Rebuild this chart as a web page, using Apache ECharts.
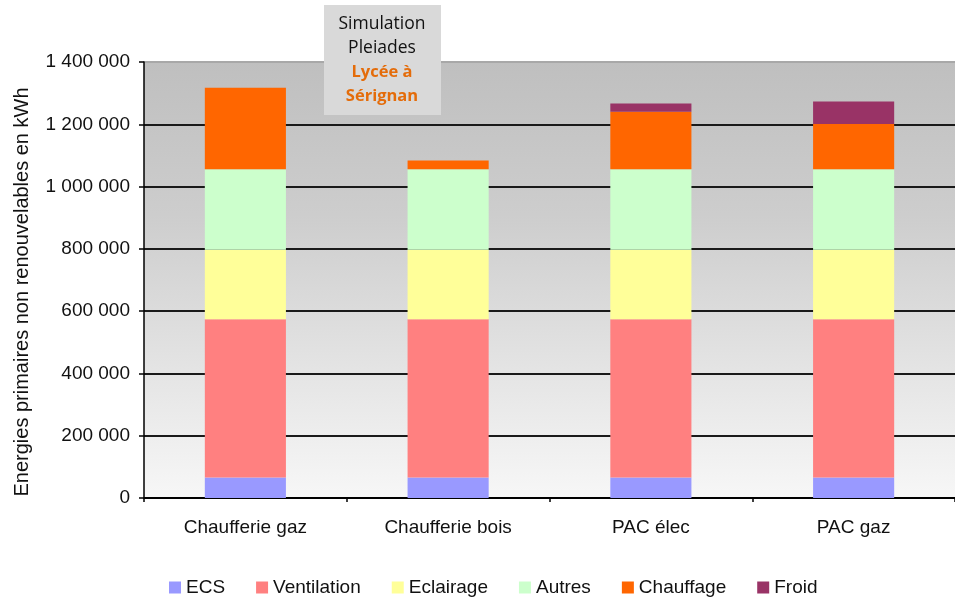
<!DOCTYPE html>
<html>
<head>
<meta charset="utf-8">
<script src="https://cdn.jsdelivr.net/npm/echarts@6/dist/echarts.min.js"></script>
<style>
  html, body { margin: 0; padding: 0; background: #fff; }
  #chart { width: 955px; height: 598px; }
</style>
</head>
<body>
<div id="chart"></div>
<script>
// Consommation d'énergie primaire non renouvelable par variante (kWh)
const categories = ['Chaufferie gaz', 'Chaufferie bois', 'PAC élec', 'PAC gaz'];
const ecs         = [66000, 66000, 66000, 66000];
const ventilation = [508000, 508000, 508000, 508000];
const eclairage   = [223000, 223000, 223000, 223000];
const autres      = [259000, 259000, 259000, 259000];
const chauffage   = [261000, 28000, 184000, 145000];
const froid       = [0, 0, 27000, 72000];

const seriesNames  = ['ECS', 'Ventilation', 'Eclairage', 'Autres', 'Chauffage', 'Froid'];
const seriesValues = [ecs, ventilation, eclairage, autres, chauffage, froid];
const seriesColors = ['#9999ff', '#ff8080', '#ffff99', '#ccffcc', '#ff6600', '#993366'];

const yTicks = { min: 0, max: 1400000, interval: 200000 };

function formatThousands(v) {
  return String(v).replace(/\B(?=(\d{3})+(?!\d))/g, ' ');
}

const chart = echarts.init(document.getElementById('chart'));

const baseFont = '"Liberation Sans", Arial, sans-serif';
const boxFont = '"Open Sans", sans-serif';

chart.setOption({
  animation: false,
  textStyle: { fontFamily: baseFont },
  grid: {
    left: 144, top: 62, width: 822, height: 436,
    show: true,
    borderWidth: 0,
    backgroundColor: new echarts.graphic.LinearGradient(0, 0, 0, 1, [
      { offset: 0, color: '#bfbfbf' },
      { offset: 0.35, color: '#cdcdcd' },
      { offset: 1, color: '#f7f7f7' }
    ])
  },
  legend: {
    left: 164, top: 573,
    itemWidth: 12, itemHeight: 12, itemGap: 31,
    icon: 'rect',
    textStyle: { fontSize: 19, color: '#111', fontFamily: baseFont },
    data: seriesNames
  },
  xAxis: {
    type: 'category',
    data: categories,
    axisLine: { lineStyle: { color: '#000', width: 1.5 } },
    axisTick: { show: true, length: 4, lineStyle: { color: '#000', width: 1.5 } },
    axisLabel: { margin: 20, fontSize: 19, color: '#111', fontFamily: baseFont }
  },
  yAxis: {
    type: 'value',
    min: yTicks.min, max: yTicks.max, interval: yTicks.interval,
    name: 'Energies primaires non renouvelables en kWh',
    nameLocation: 'middle',
    nameGap: 112,
    nameTextStyle: { fontSize: 20, color: '#111', fontFamily: baseFont, padding: [0, 24, 0, 0] },
    axisLine: { show: true, lineStyle: { color: '#000', width: 1.5 } },
    axisTick: { show: true, length: 5, lineStyle: { color: '#000', width: 1.5 } },
    axisLabel: {
      margin: 14, fontSize: 19, color: '#111', fontFamily: baseFont,
      formatter: formatThousands
    },
    splitLine: {
      show: true,
      lineStyle: {
        color: ['#000', '#1a1a1a', '#1a1a1a', '#1a1a1a', '#1a1a1a', '#1a1a1a', '#1a1a1a', '#a8a8a8'],
        width: 2
      }
    }
  },
  series: seriesNames.map((name, i) => ({
    name: name,
    type: 'bar',
    stack: 'total',
    barWidth: '40%',
    data: seriesValues[i],
    itemStyle: { color: seriesColors[i] },
    emphasis: { disabled: true }
  })),
  graphic: [
    {
      type: 'rect',
      z: 100,
      shape: { x: 324, y: 5, width: 117, height: 110 },
      style: { fill: '#d9d9d9' }
    },
    {
      type: 'text', z: 101, x: 382, y: 24,
      style: { text: 'Simulation', fill: '#111', font: '17.5px ' + boxFont, textAlign: 'center', textVerticalAlign: 'middle' }
    },
    {
      type: 'text', z: 101, x: 382, y: 48,
      style: { text: 'Pleiades', fill: '#111', font: '17.5px ' + boxFont, textAlign: 'center', textVerticalAlign: 'middle' }
    },
    {
      type: 'text', z: 101, x: 382, y: 72,
      style: { text: 'Lycée à', fill: '#e46c0a', font: 'bold 16.5px ' + boxFont, textAlign: 'center', textVerticalAlign: 'middle' }
    },
    {
      type: 'text', z: 101, x: 382, y: 96,
      style: { text: 'Sérignan', fill: '#e46c0a', font: 'bold 16.5px ' + boxFont, textAlign: 'center', textVerticalAlign: 'middle' }
    }
  ]
});
</script>
</body>
</html>
